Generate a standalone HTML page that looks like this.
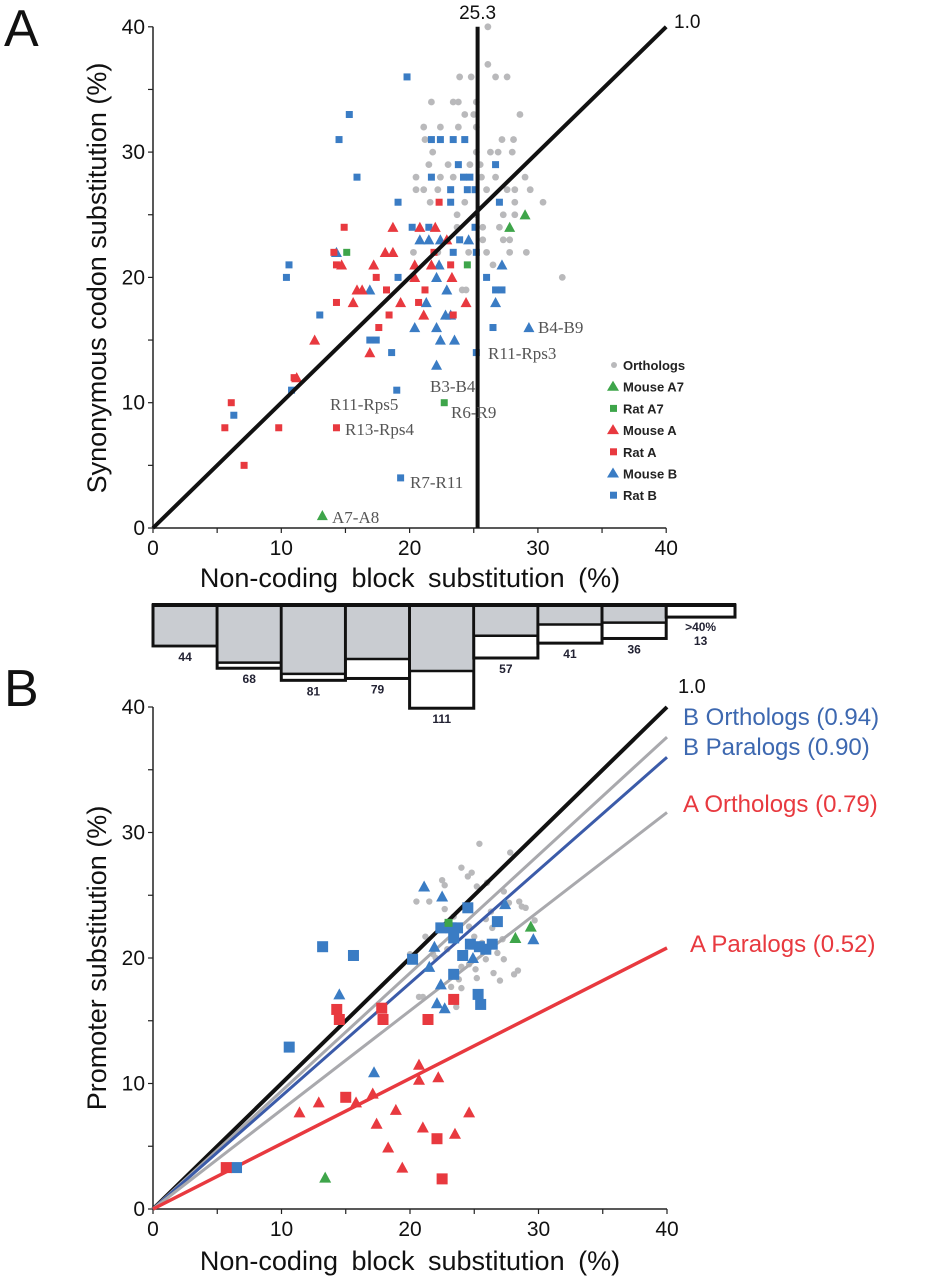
<!DOCTYPE html>
<html><head><meta charset="utf-8"><style>
html,body{margin:0;padding:0;background:#fff;}
svg{display:block;font-family:"Liberation Sans","DejaVu Sans",sans-serif;}
</style></head><body>
<svg id="fig" width="949" height="1280" viewBox="0 0 949 1280">
<g id="pa"></g>
<g id="hist"></g>
<g id="pb"></g>
</svg>
<script>
// ===== Panel A data =====
const aTicks = [0,10,20,30,40];
const aOrthoX = [26.1,26.1,23.9,24.8,26.7,27.6,21.7,23.4,23.8,25.2,24.3,25.0,28.6,21.1,22.4,23.8,25.2,21.2,27.2,28.1,21.8,25.2,26.3,26.9,28.0,21.5,23.0,24.7,25.5,20.5,22.4,23.4,25.6,26.7,29.0,20.5,21.1,22.2,26.0,27.6,28.2,29.4,21.6,24.3,28.2,30.4,23.7,25.2,27.3,28.2,23.7,25.7,27.0,25.7,27.3,27.8,20.3,22.2,24.6,26.0,27.8,29.1,26.5,31.9,24.1,24.4];
const aOrthoY = [40,37,36,36,36,36,34,34,34,34,33,33,33,32,32,32,32,31,31,31,30,30,30,30,30,29,29,29,29,28,28,28,28,28,28,27,27,27,27,27,27,27,26,26,26,26,25,25,25,25,24,24,24,23,23,23,22,22,22,22,22,22,21,20,19,19];
const aRatBX = [19.8,15.3,14.5,15.9,21.7,22.4,23.4,24.3,23.8,26.7,21.7,24.2,24.7,23.2,24.5,25.1,19.1,23.2,27.0,20.2,21.5,25.1,23.9,23.4,25.2,10.6,10.4,19.1,26.0,26.7,27.2,13.0,26.5,16.9,17.4,18.6,25.2,10.8,19.0,6.3,19.3];
const aRatBY = [36,33,31,28,31,31,31,31,29,29,28,28,28,27,27,27,26,26,26,24,24,24,23,22,22,21,20,20,20,19,19,17,16,15,15,14,14,11,11,9,4];
const aMouseBX = [14.3,20.8,21.5,22.4,24.6,22.3,27.2,22.1,16.9,22.9,21.3,26.7,20.4,22.1,22.8,23.2,22.4,23.5,22.1,29.3];
const aMouseBY = [22,23,23,23,23,21,21,20,19,19,18,18,16,16,17,17,15,15,13,16];
const aMouseAX = [18.7,20.8,22.0,22.9,18.1,18.7,14.7,17.2,20.4,21.7,20.4,23.3,15.9,16.3,15.6,19.3,21.1,24.4,12.6,16.9,11.2];
const aMouseAY = [24,24,24,23,22,22,21,21,21,21,20,20,19,19,18,18,17,18,15,14,12];
const aRatAX = [14.9,14.1,21.9,14.3,23.2,17.4,22.3,18.2,21.2,14.3,20.7,18.4,23.4,17.6,11.0,6.1,5.6,9.8,14.3,7.1];
const aRatAY = [24,22,22,21,21,20,26,19,19,18,18,17,17,16,12,10,8,8,8,5];
const aMouseA7X = [29.0,27.8,13.2];
const aMouseA7Y = [25,24,1];
const aRatA7X = [15.1,24.5,22.7];
const aRatA7Y = [22,21,10];
const aVLine = 25.3;

// ===== Histogram data =====
const histLabels = ["44","68","81","79","111","57","41","36","13"];
const histTotal = [44,68,81,79,111,57,41,36,13];
const histGray = [44,62,74,58,71,33,21,19,0];

// ===== Panel B data =====
const bOrthoX = [25.4,27.8,24.0,24.5,22.5,22.7,25.2,26.0,20.5,21.5,28.5,27.7,22.7,23.4,26.3,25.9,26.4,21.2,24.6,25.0,27.2,21.8,22.9,26.8,27.3,24.0,24.6,28.1,25.1,25.2,23.8,21.0,20.7,23.6,23.2,24.0,25.9,27.3,28.7,29.7,29.0,26.5,27.0,22.0,24.8,25.6,28.4,20.0];
const bOrthoY = [29.1,28.4,27.2,26.5,26.2,25.8,25.7,26.0,24.5,24.5,24.5,24.4,23.9,23.3,23.7,23.1,22.4,21.7,22.5,21.7,21.5,20.3,20.7,20.4,19.9,19.3,19.5,18.7,19.1,18.4,18.3,16.9,16.9,16.1,17.7,17.6,19.9,25.3,24.1,23.0,24.0,18.8,18.2,20.0,26.8,21.2,19.0,20.3];
const bRatBX = [13.2,15.6,10.6,6.5,20.2,24.5,22.4,23.2,23.7,23.4,26.8,24.7,25.4,25.9,26.4,24.1,23.4,25.3,25.5];
const bRatBY = [20.9,20.2,12.9,3.3,19.9,24.0,22.4,22.4,22.4,21.6,22.9,21.1,20.9,20.7,21.1,20.2,18.7,17.1,16.3];
const bMouseBX = [21.1,22.5,27.4,29.6,21.9,21.5,24.9,22.4,22.1,22.7,14.5,17.2];
const bMouseBY = [25.7,24.9,24.3,21.5,20.9,19.3,20.0,17.9,16.4,16.0,17.1,10.9];
const bRatAX = [14.3,14.5,17.8,17.9,21.4,23.4,15.0,5.7,22.1,22.5];
const bRatAY = [15.9,15.1,16.0,15.1,15.1,16.7,8.9,3.3,5.6,2.4];
const bMouseAX = [11.4,12.9,15.8,17.1,20.7,20.7,22.2,18.9,17.4,24.6,21.0,23.5,18.3,19.4];
const bMouseAY = [7.7,8.5,8.5,9.2,11.5,10.3,10.5,7.9,6.8,7.7,6.5,6.0,4.9,3.3];
const bMouseA7X = [29.4,28.2,13.4];
const bMouseA7Y = [22.5,21.6,2.5];
const bRatA7X = [23.0];
const bRatA7Y = [22.8];
const bSlopes = [1.0,0.94,0.90,0.79,0.52];
const bSlopeNames = ["1.0","B Orthologs (0.94)","B Paralogs (0.90)","A Orthologs (0.79)","A Paralogs (0.52)"];

const BLUE="#3a7cc4", RED="#e8393f", GREEN="#3ea54a", GRAY="#b9b9bb";
const NS="http://www.w3.org/2000/svg";
function mk(parent, tag, attrs, txt){
  const e=document.createElementNS(NS,tag);
  for(const k in attrs) e.setAttribute(k,attrs[k]);
  if(txt!==undefined) e.textContent=txt;
  parent.appendChild(e); return e;
}
// axis functions
const axA = {x:v=>153+v*12.83, y:v=>528-v*12.53};
const axB = {x:v=>153+v*12.85, y:v=>1209-v*12.55};

function drawAxes(g, ax, yTitle, xTitleY, yTitleCy){
  const a=mk(g,'line',{x1:ax.x(0),y1:ax.y(40),x2:ax.x(0),y2:ax.y(0),stroke:'#222','stroke-width':1.5});
   
  const b=mk(g,'line',{x1:ax.x(0),y1:ax.y(0),x2:ax.x(40),y2:ax.y(0),stroke:'#222','stroke-width':1.5});
   
  for(let v=0;v<=40;v+=5){
    mk(g,'line',{x1:ax.x(0)-5,y1:ax.y(v),x2:ax.x(0),y2:ax.y(v),stroke:'#222','stroke-width':1.2});
    mk(g,'line',{x1:ax.x(v),y1:ax.y(0),x2:ax.x(v),y2:ax.y(0)+5,stroke:'#222','stroke-width':1.2});
  }
  aTicks.forEach(t=>{
    const ty=mk(g,'text',{x:ax.x(0)-8,y:ax.y(t)+7,'text-anchor':'end','font-size':21,fill:'#111'},t);
     
    const tx=mk(g,'text',{x:ax.x(t),y:ax.y(0)+27,'text-anchor':'middle','font-size':21,fill:'#111'},t);
     
  });
  const yt=mk(g,'text',{x:0,y:0,'text-anchor':'middle','font-size':27,fill:'#111',transform:`translate(106,${yTitleCy}) rotate(-90)`},yTitle);
   
  const xt=mk(g,'text',{x:410,y:xTitleY,'text-anchor':'middle','font-size':27,fill:'#111','word-spacing':'6px'},'Non-coding block substitution (%)');
   
}
function sq(g,ax,xs,ys,col,s,name){
  xs.forEach((v,i)=>{
    const e=mk(g,'rect',{x:ax.x(v)-s/2,y:ax.y(ys[i])-s/2,width:s,height:s,fill:col});
     
  });
}
function tri(g,ax,xs,ys,col,s,name){
  xs.forEach((v,i)=>{
    const cx=ax.x(v), cy=ax.y(ys[i]);
    const e=mk(g,'polygon',{points:`${cx-s/2},${cy+s*0.42} ${cx+s/2},${cy+s*0.42} ${cx},${cy-s*0.5}`,fill:col});
     
  });
}
function dot(g,ax,xs,ys,col,r,name){
  xs.forEach((v,i)=>{
    const e=mk(g,'circle',{cx:ax.x(v),cy:ax.y(ys[i]),r:r,fill:col});
     
  });
}

// ===== Panel A =====
const pa=document.getElementById('pa');
const la=mk(pa,'text',{x:4,y:46,'font-size':52,fill:'#111'},'A');
 
drawAxes(pa,axA,'Synonymous codon substitution (%)',587,278);
dot(pa,axA,aOrthoX,aOrthoY,GRAY,3.4,'ortholog-point');
sq(pa,axA,aRatBX,aRatBY,BLUE,7,'rat-b-point');
tri(pa,axA,aMouseBX,aMouseBY,BLUE,11,'mouse-b-point');
tri(pa,axA,aMouseAX,aMouseAY,RED,11,'mouse-a-point');
sq(pa,axA,aRatAX,aRatAY,RED,7,'rat-a-point');
tri(pa,axA,aMouseA7X,aMouseA7Y,GREEN,11,'mouse-a7-point');
sq(pa,axA,aRatA7X,aRatA7Y,GREEN,7,'rat-a7-point');
const d1=mk(pa,'line',{x1:axA.x(0),y1:axA.y(0),x2:axA.x(40),y2:axA.y(40),stroke:'#111','stroke-width':4});
 
const vl=mk(pa,'line',{x1:axA.x(aVLine),y1:axA.y(40),x2:axA.x(aVLine),y2:axA.y(0),stroke:'#111','stroke-width':4});
 
const t1=mk(pa,'text',{x:674,y:28,'font-size':19,fill:'#111'},'1.0');
 
const t2=mk(pa,'text',{x:axA.x(aVLine),y:19,'text-anchor':'middle','font-size':19,fill:'#111'},'25.3');
 
// annotations
[["B4-B9",538,333],["R11-Rps3",488,359],["B3-B4",430,392],["R11-Rps5",330,410],["R6-R9",451,418],["R13-Rps4",345,435],["R7-R11",410,488],["A7-A8",332,523]].forEach(a=>{
  const e=mk(pa,'text',{x:a[1],y:a[2],'font-size':17,fill:'#555','font-family':'"Liberation Serif",serif'},a[0]);
   
});
// legend
const leg=mk(pa,'g',{});
 
[["Orthologs","dot",GRAY],["Mouse A7","tri",GREEN],["Rat A7","sq",GREEN],["Mouse A","tri",RED],["Rat A","sq",RED],["Mouse B","tri",BLUE],["Rat B","sq",BLUE]].forEach((it,i)=>{
  const y=365+i*21.7;
  const ge=mk(leg,'g',{});
   
  if(it[1]==='dot') mk(ge,'circle',{cx:614,cy:y,r:3,fill:it[2]});
  else if(it[1]==='sq') mk(ge,'rect',{x:610,y:y-3.5,width:7,height:7,fill:it[2]});
  else mk(ge,'polygon',{points:`${607},${y+4} ${619},${y+4} ${613},${y-6}`,fill:it[2]});
  mk(ge,'text',{x:623,y:y+5,'font-size':13,'font-weight':'bold',fill:'#222'},it[0]);
});

// ===== Histogram =====
const hg=document.getElementById('hist');
const hTop=605, hScale=0.93;
histTotal.forEach((c,i)=>{
  const x0=axA.x(i*5), x1=(i<8)?axA.x(i*5+5):735;
  const hT=c*hScale, hG=histGray[i]*hScale;
  const r=mk(hg,'rect',{x:x0,y:hTop,width:x1-x0,height:hT,fill:'#fff',stroke:'#111','stroke-width':3});
   
  if(hG>0){
    const gr=mk(hg,'rect',{x:x0+1.5,y:hTop+1.5,width:x1-x0-3,height:hG-1.5,fill:'#c9ccd1'});
     
    mk(hg,'line',{x1:x0,y1:hTop+hG,x2:x1,y2:hTop+hG,stroke:'#111','stroke-width':2.5});
  }
  const lab=mk(hg,'text',{x:(x0+x1)/2,y:i<8?hTop+hT+15:hTop+hT+28,'text-anchor':'middle','font-size':12,'font-weight':'bold',fill:'#223'},histLabels[i]);
   
  if(i===8){
    const g4=mk(hg,'text',{x:(x0+x1)/2,y:hTop+hT+14,'text-anchor':'middle','font-size':12,'font-weight':'bold',fill:'#223'},'>40%');
     
  }
});
mk(hg,'line',{x1:152,y1:hTop,x2:736,y2:hTop,stroke:'#111','stroke-width':4});

// ===== Panel B =====
const pb=document.getElementById('pb');
const lb=mk(pb,'text',{x:4,y:706,'font-size':52,fill:'#111'},'B');
 
drawAxes(pb,axB,'Promoter substitution (%)',1270,958);
dot(pb,axB,bOrthoX,bOrthoY,GRAY,3.2,'ortholog-point');
const lineCols=['#111','#a9a9ad','#3b5ba9','#a9a9ad',RED];
const lineW=[4,3,3,3,3.5];
const labY=[693,725,755,812,952], labCol=['#111','#3d68b0','#3d68b0',RED,RED], labX=[678,683,683,683,690], labFs=[20,24,24,24,24];
bSlopes.forEach((s,i)=>{
  const l=mk(pb,'line',{x1:axB.x(0),y1:axB.y(0),x2:axB.x(40),y2:axB.y(40*s),stroke:lineCols[i],'stroke-width':lineW[i]});
   
  const t=mk(pb,'text',{x:labX[i],y:labY[i],'font-size':labFs[i],fill:labCol[i]},bSlopeNames[i]);
   
});
sq(pb,axB,bRatBX,bRatBY,BLUE,11,'rat-b-point');
tri(pb,axB,bMouseBX,bMouseBY,BLUE,12,'mouse-b-point');
sq(pb,axB,bRatAX,bRatAY,RED,11,'rat-a-point');
tri(pb,axB,bMouseAX,bMouseAY,RED,12,'mouse-a-point');
tri(pb,axB,bMouseA7X,bMouseA7Y,GREEN,12,'mouse-a7-point');
sq(pb,axB,bRatA7X,bRatA7Y,GREEN,8,'rat-a7-point');
</script>
</body></html>
